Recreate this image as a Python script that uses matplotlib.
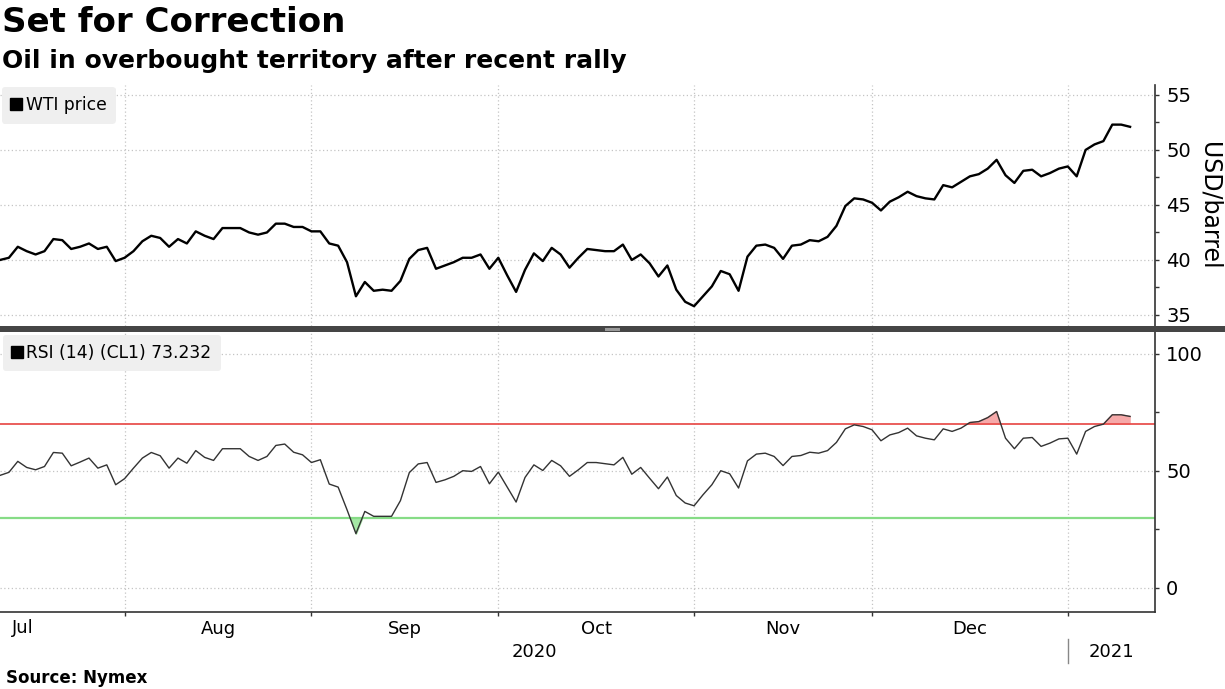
import matplotlib.pyplot as plt
import matplotlib.transforms as mtransforms
from matplotlib.lines import Line2D
from matplotlib.patches import Rectangle
import numpy as np

# Dati (un punto per giorno di borsa, da meta luglio 2020 a meta gennaio 2021)
wti = [40.0, 40.2, 41.2, 40.8, 40.5, 40.8, 41.9, 41.8, 41.0, 41.2, 41.5, 41.0, 41.2, 39.9,
       40.2, 40.8, 41.7, 42.2, 42.0, 41.2, 41.9, 41.5, 42.6, 42.2, 41.9, 42.9, 42.9, 42.9,
       42.5, 42.3, 42.5, 43.3, 43.3, 43.0, 43.0,
       42.6, 42.6, 41.5, 41.3, 39.8, 36.7, 38.0, 37.2, 37.3, 37.2, 38.1, 40.1, 40.9, 41.1,
       39.2, 39.5, 39.8, 40.2, 40.2, 40.5, 39.2,
       40.2, 38.6, 37.1, 39.1, 40.6, 39.9, 41.1, 40.5, 39.3, 40.2, 41.0, 40.9, 40.8, 40.8,
       41.4, 40.0, 40.5, 39.7, 38.5, 39.5, 37.3, 36.2,
       35.8, 36.7, 37.6, 39.0, 38.7, 37.2, 40.3, 41.3, 41.4, 41.1, 40.1, 41.3, 41.4, 41.8,
       41.7, 42.1, 43.1, 44.9, 45.6, 45.5,
       45.2, 44.5, 45.3, 45.7, 46.2, 45.8, 45.6, 45.5, 46.8, 46.6, 47.1, 47.6, 47.8, 48.3,
       49.1, 47.7, 47.0, 48.1, 48.2, 47.6, 47.9, 48.3,
       48.5, 47.6, 50.0, 50.5, 50.8, 52.3, 52.3, 52.1]

rsi = [48.1, 49.4, 54.1, 51.5, 50.5, 51.9, 57.9, 57.6, 52.2, 53.8, 55.5, 51.2, 52.6, 44.1,
       46.7, 51.2, 55.5, 57.9, 56.5, 51.2, 55.5, 53.3, 58.7, 55.8, 54.5, 59.5, 59.5, 59.5,
       56.2, 54.5, 56.2, 60.9, 61.5, 58.0, 56.9,
       53.6, 54.8, 44.4, 43.1, 33.4, 23.2, 32.7, 30.6, 30.6, 30.6, 37.3, 49.3, 53.0, 53.6,
       45.1, 46.2, 47.7, 50.1, 49.8, 51.9, 44.5,
       49.5, 43.1, 36.7, 47.2, 52.6, 50.2, 54.5, 52.2, 47.7, 50.5, 53.6, 53.6, 53.1, 52.6,
       55.8, 48.6, 51.5, 46.9, 42.4, 47.4, 39.5, 36.3,
       35.1, 39.8, 44.1, 50.1, 48.8, 42.7, 54.3, 57.2, 57.6, 56.2, 52.3, 56.2, 56.6, 58.0,
       57.6, 58.7, 62.2, 68.0, 69.7, 69.0,
       67.6, 62.9, 65.4, 66.4, 68.3, 65.0, 64.0, 63.3, 68.0, 66.9, 68.3, 70.7, 71.1, 72.8,
       75.4, 64.0, 59.5, 64.0, 64.3, 60.5, 61.9, 63.7,
       64.0, 57.2, 66.9, 69.0, 70.0, 74.0, 74.0, 73.3]

# indice del primo giorno di borsa di ogni mese (Aug, Sep, Oct, Nov, Dec, Jan)
month_starts = [14, 35, 56, 78, 98, 120]
month_labels = ['Aug', 'Sep', 'Oct', 'Nov', 'Dec']
years = ['2020', '2021']
rsi_last = '73.232'

x = np.arange(len(wti))
rsi = np.array(rsi)
xmax = 129.8

plt.rcParams['font.family'] = 'DejaVu Sans'
fig = plt.figure(figsize=(12.25, 6.89), dpi=100)

W, H = 1225, 689
grid_kw = dict(color='#c4c4c4', linestyle=(0, (1, 2)), linewidth=0.9)

# Grafico superiore: prezzo WTI
ax1 = fig.add_axes([0, 1 - 326 / H, 1155 / W, (326 - 85) / H])
ax1.plot(x, wti, color='black', linewidth=1.7)
ax1.set_xlim(0, xmax)
ax1.set_ylim(34.0, 55.9)
ax1.set_yticks([35, 40, 45, 50, 55])
ax1.set_yticks([37.5, 42.5, 47.5, 52.5], minor=True)
ax1.set_xticks(month_starts)
ax1.tick_params(axis='x', bottom=False, labelbottom=False)
ax1.yaxis.tick_right()
ax1.yaxis.set_label_position('right')
ax1.tick_params(axis='y', which='both', direction='out', length=3, width=1, color='#333333',
                labelsize=14, pad=5)
ax1.set_ylabel('USD/barrel', fontsize=17, rotation=270, labelpad=22)
ax1.grid(True, **grid_kw)
for s in ['top', 'left', 'bottom']:
    ax1.spines[s].set_visible(False)
ax1.spines['right'].set_color('#333333')
ax1.spines['right'].set_linewidth(1.2)
leg1 = ax1.legend(handles=[Line2D([], [], marker='s', color='black', linestyle='none', markersize=8)],
                  labels=['WTI price'], loc='upper left', fontsize=12.3, handlelength=0.6,
                  handletextpad=0.25, borderaxespad=0.1, fancybox=True, framealpha=1,
                  borderpad=0.55)
leg1.get_frame().set_facecolor('#efefef')
leg1.get_frame().set_edgecolor('none')

# Grafico inferiore: RSI
ax2 = fig.add_axes([0, 1 - 612 / H, 1155 / W, (612 - 332) / H])
ax2.axhline(70, color='#e8524f', linewidth=1.3, zorder=2)
ax2.axhline(30, color='#86dc86', linewidth=1.6, zorder=2)
ax2.fill_between(x, rsi, 70, where=rsi > 70, interpolate=True, color='#f6a9a9', zorder=1)
ax2.fill_between(x, rsi, 30, where=rsi < 30, interpolate=True, color='#a5e8a5', zorder=1)
ax2.plot(x, rsi, color='#333333', linewidth=1.0, zorder=3)
ax2.set_xlim(0, xmax)
ax2.set_ylim(-10.3, 109.4)
ax2.set_yticks([0, 50, 100])
ax2.set_yticks([25, 75], minor=True)
ax2.yaxis.tick_right()
ax2.tick_params(axis='y', which='both', direction='out', length=3, width=1, color='#333333',
                labelsize=14, pad=5)
ax2.grid(True, **grid_kw)
for s in ['top', 'left']:
    ax2.spines[s].set_visible(False)
for s in ['right', 'bottom']:
    ax2.spines[s].set_color('#333333')
    ax2.spines[s].set_linewidth(1.2)

# Etichette dei mesi al centro di ogni mese
ax2.set_xticks(month_starts)
ax2.set_xticklabels([])
ax2.tick_params(axis='x', which='major', direction='out', length=3, width=1, color='#333333')
mids = [(month_starts[i] + month_starts[i + 1]) / 2 for i in range(len(month_labels))]
ax2.set_xticks(mids, minor=True)
ax2.set_xticklabels(month_labels, minor=True, fontsize=13)
ax2.tick_params(axis='x', which='minor', length=0, pad=6)
ax2.text(1.3, -0.025, 'Jul', transform=ax2.get_xaxis_transform(), fontsize=13,
         ha='left', va='top')

# Anni sotto i mesi
trans = mtransforms.blended_transform_factory(ax2.transData, fig.transFigure)
ax2.text(month_starts[-1] / 2, 1 - 652 / H, years[0], transform=trans, fontsize=13,
         ha='center', va='center')
ax2.text((month_starts[-1] + xmax) / 2, 1 - 652 / H, years[1], transform=trans, fontsize=13,
         ha='center', va='center')
ax2.add_line(Line2D([month_starts[-1], month_starts[-1]], [1 - 639 / H, 1 - 663 / H],
                    transform=trans, color='#888888', linewidth=1, clip_on=False))

leg2 = ax2.legend(handles=[Line2D([], [], marker='s', color='black', linestyle='none', markersize=8)],
                  labels=['RSI (14) (CL1) ' + rsi_last], loc='upper left', fontsize=12.3,
                  handlelength=0.6, handletextpad=0.25, borderaxespad=0.15, fancybox=True,
                  framealpha=1, borderpad=0.55)
leg2.get_frame().set_facecolor('#efefef')
leg2.get_frame().set_edgecolor('none')

# Barra di separazione tra i due pannelli
fig.add_artist(Rectangle((0, 1 - 332 / H), 1, 6 / H, transform=fig.transFigure,
                         facecolor='#454545', edgecolor='none'))
fig.add_artist(Rectangle((605 / W, 1 - 330.5 / H), 15 / W, 2 / H, transform=fig.transFigure,
                         facecolor='#9a9a9a', edgecolor='none'))

# Titoli e fonte
fig.text(2 / W, 1 - 23 / H, 'Set for Correction', fontsize=24.5, fontweight='bold',
         ha='left', va='center')
fig.text(2 / W, 1 - 61 / H, 'Oil in overbought territory after recent rally', fontsize=18,
         fontweight='bold', ha='left', va='center')
fig.text(6 / W, 1 - 678 / H, 'Source: Nymex', fontsize=12, fontweight='bold',
         ha='left', va='center')

plt.savefig('out.png', dpi=100)
